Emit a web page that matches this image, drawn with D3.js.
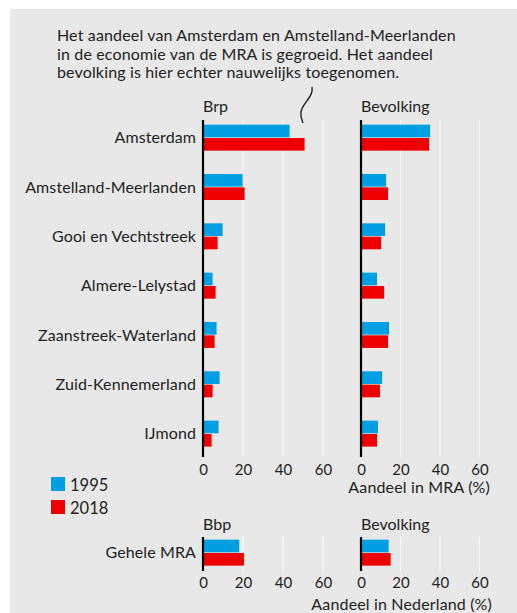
<!DOCTYPE html>
<html><head><meta charset="utf-8">
<script src="https://cdn.jsdelivr.net/npm/d3@7"></script>
<style>
html,body{margin:0;padding:0;background:#fff;}
svg{display:block;font-family:Lato, "Open Sans", sans-serif;}
</style></head>
<body>
<svg id="c" width="517" height="613"></svg>
<script>
const categories = ["Amsterdam","Amstelland-Meerlanden","Gooi en Vechtstreek","Almere-Lelystad","Zaanstreek-Waterland","Zuid-Kennemerland","IJmond"];
const years = ["1995","2018"];
const brp1995 = [43.3,19.8,9.8,4.8,6.8,8.3,7.8];
const brp2018 = [50.8,20.8,7.3,6.3,5.8,4.8,4.3];
const bev1995 = [35.0,12.7,12.2,8.1,14.2,10.7,8.6];
const bev2018 = [34.5,13.7,10.2,11.7,13.7,9.6,8.1];
const totalCategory = ["Gehele MRA"];
const bbpTotal = [18.1,20.5];   // 1995, 2018
const bevTotal = [14.0,15.0];   // 1995, 2018
const ticks = [0,20,40,60];
const panelTitlesTop = ["Brp","Bevolking"];
const panelTitlesBottom = ["Bbp","Bevolking"];
const annotation = ["Het aandeel van Amsterdam en Amstelland-Meerlanden","in de economie van de MRA is gegroeid. Het aandeel","bevolking is hier echter nauwelijks toegenomen."];
const axisTitleTop = "Aandeel in MRA (%)";
const axisTitleBottom = "Aandeel in Nederland (%)";

const colors = {"1995":"#009fe3","2018":"#ee0000"};
const textColor = "#222";
const svg = d3.select("#c");

svg.append("rect").attr("x",10).attr("y",9).attr("width",507).attr("height",604).attr("fill","#e8e8e8");

const xL = d3.scaleLinear().domain([0,60]).range([203,323]);
const xR = d3.scaleLinear().domain([0,60]).range([361,479.5]);

const yTop = d3.scaleBand().domain(categories).range([113,458.3]).paddingInner(0.473).paddingOuter(0.2365);
const yBot = d3.scaleBand().domain(totalCategory).range([528,577.3]).paddingInner(0.473).paddingOuter(0.2365);
const ySubT = d3.scaleBand().domain(years).range([0,yTop.bandwidth()]).paddingInner(0.05);
const ySubB = d3.scaleBand().domain(years).range([0,yBot.bandwidth()]).paddingInner(0.05);

function panel(x, y, ySub, cats, v95, v18, gy0, gy1, title, titleY, tickY){
  const g = svg.append("g");
  g.selectAll("line.grid").data(ticks.slice(1)).join("line")
    .attr("x1",d=>x(d)).attr("x2",d=>x(d)).attr("y1",gy0).attr("y2",gy1)
    .attr("stroke","#f7f7f7").attr("stroke-width",1);
  cats.forEach((c,i)=>{
    [[years[0],v95[i]],[years[1],v18[i]]].forEach(([yr,v])=>{
      g.append("rect").attr("x",x(0)).attr("y",y(c)+ySub(yr))
        .attr("width",x(v)-x(0)).attr("height",ySub.bandwidth()).attr("fill",colors[yr]);
    });
  });
  g.append("line").attr("x1",x(0)).attr("x2",x(0)).attr("y1",gy0).attr("y2",gy1)
    .attr("stroke","#000").attr("stroke-width",2.2);
  const ax = g.append("g").attr("transform",`translate(0,${tickY})`)
    .call(d3.axisBottom(x).tickValues(ticks).tickSize(0).tickPadding(0));
  ax.select(".domain").remove();
  ax.selectAll("text").attr("font-size",15).attr("fill",textColor).attr("font-family","Lato").attr("dy",0);
  g.append("text").attr("x",x(0)).attr("y",titleY).text(title)
    .attr("font-size",16).attr("fill",textColor);
}

panel(xL,yTop,ySubT,categories,brp1995,brp2018,120,457,panelTitlesTop[0],112,475);
panel(xR,yTop,ySubT,categories,bev1995,bev2018,120,457,panelTitlesTop[1],112,475);
panel(xL,yBot,ySubB,totalCategory,[bbpTotal[0]],[bbpTotal[1]],537,571,panelTitlesBottom[0],530,588);
panel(xR,yBot,ySubB,totalCategory,[bevTotal[0]],[bevTotal[1]],537,571,panelTitlesBottom[1],530,588);

const yl = d3.axisLeft(yTop).tickSize(0).tickPadding(0);
const ga = svg.append("g").attr("transform","translate(196,0)").call(yl);
ga.select(".domain").remove();
ga.selectAll("text").attr("font-size",16).attr("fill",textColor).attr("font-family","Lato").attr("dy","0.35em").attr("letter-spacing",0.1);
const gb = svg.append("g").attr("transform","translate(196,0)").call(d3.axisLeft(yBot).tickSize(0).tickPadding(0));
gb.select(".domain").remove();
gb.selectAll("text").attr("font-size",16).attr("fill",textColor).attr("font-family","Lato").attr("dy","0.35em").attr("letter-spacing",0.1);

svg.append("text").attr("x",490).attr("y",493).attr("text-anchor","end").attr("font-size",16).attr("letter-spacing",0.15).attr("fill",textColor).text(axisTitleTop);
svg.append("text").attr("x",492).attr("y",610).attr("text-anchor","end").attr("font-size",16).attr("letter-spacing",0.15).attr("fill",textColor).text(axisTitleBottom);

years.forEach((yr,i)=>{
  svg.append("rect").attr("x",51).attr("y",477+i*23).attr("width",14).attr("height",14).attr("fill",colors[yr]);
  svg.append("text").attr("x",70).attr("y",491+i*23).attr("font-size",16.5).attr("fill",textColor).text(yr);
});

annotation.forEach((t,i)=>{
  svg.append("text").attr("x",57).attr("y",41+i*18.7).attr("font-size",16).attr("letter-spacing",0.15).attr("fill",textColor).text(t);
});
svg.append("path").attr("d","M312,87 C314,97 302,103 301,112 C300,117 302,120 303,123")
  .attr("fill","none").attr("stroke","#111").attr("stroke-width",1.3);
</script>
</body></html>
